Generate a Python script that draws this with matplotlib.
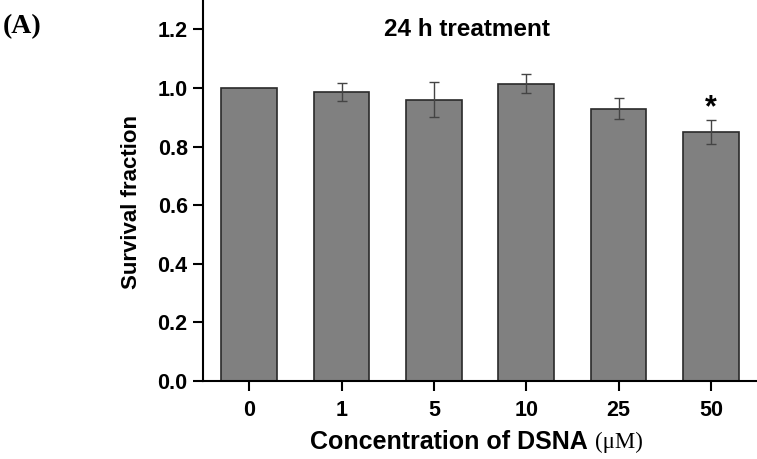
import matplotlib
matplotlib.use('Agg')
import matplotlib.pyplot as plt
import numpy as np

concentrations = ['0', '1', '5', '10', '25', '50']
survival = [1.0, 0.987, 0.960, 1.015, 0.929, 0.850]
errors = [0.0, 0.030, 0.059, 0.031, 0.036, 0.042]
significant = [False, False, False, False, False, True]

plt.rcParams['font.family'] = ['Liberation Sans', 'DejaVu Sans']

fig = plt.figure(figsize=(7.57, 4.59), dpi=100)
ax = fig.add_axes([203 / 757, 78 / 459, 554 / 757, 381 / 459])

x = np.arange(len(concentrations))
ax.bar(x, survival, width=0.6, color='#808080', edgecolor='#2a2a2a', linewidth=1.2, zorder=2)
ax.errorbar(x[1:], survival[1:], yerr=errors[1:], fmt='none', ecolor='#444444',
            elinewidth=1.0, capsize=3.5, capthick=1.0, zorder=3)

for xi, yi, ei, s in zip(x, survival, errors, significant):
    if s:
        ax.text(xi, yi + ei + 0.04, '*', ha='center', va='center', fontsize=22, fontweight='bold')

ax.set_xlim(-0.5, 5.5)
ax.set_ylim(0, 1.3)
ax.set_yticks(np.arange(0, 1.21, 0.2))
ax.set_yticklabels(['%.1f' % v for v in np.arange(0, 1.21, 0.2)])
ax.set_xticks(x)
ax.set_xticklabels(concentrations)

for side in ['top', 'right']:
    ax.spines[side].set_visible(False)
for side in ['left', 'bottom']:
    ax.spines[side].set_linewidth(1.5)

ax.tick_params(axis='both', direction='out', length=7, width=1.5, labelsize=15.5, pad=4)
ax.tick_params(axis='x', pad=7)
for lab in ax.get_xticklabels() + ax.get_yticklabels():
    lab.set_fontweight('bold')

ax.set_ylabel('Survival fraction', fontsize=16, fontweight='bold')
ax.yaxis.set_label_coords(-0.110, 0.47)
ax.text(2.36, 1.2, '24 h treatment', ha='center', va='center', fontsize=17.5, fontweight='bold')

fig.text(588 / 757, 1 - 442 / 459, 'Concentration of DSNA', ha='right', va='center',
         fontsize=18, fontweight='bold')
fig.text(595 / 757, 1 - 442 / 459, '(\u03bcM)', ha='left', va='center',
         fontsize=16.5, family='Liberation Serif')
fig.text(3 / 757, 1 - 27 / 459, '(A)', ha='left', va='center', fontsize=20,
         fontweight='bold', family='Liberation Serif')

fig.savefig('out.png', dpi=100)
